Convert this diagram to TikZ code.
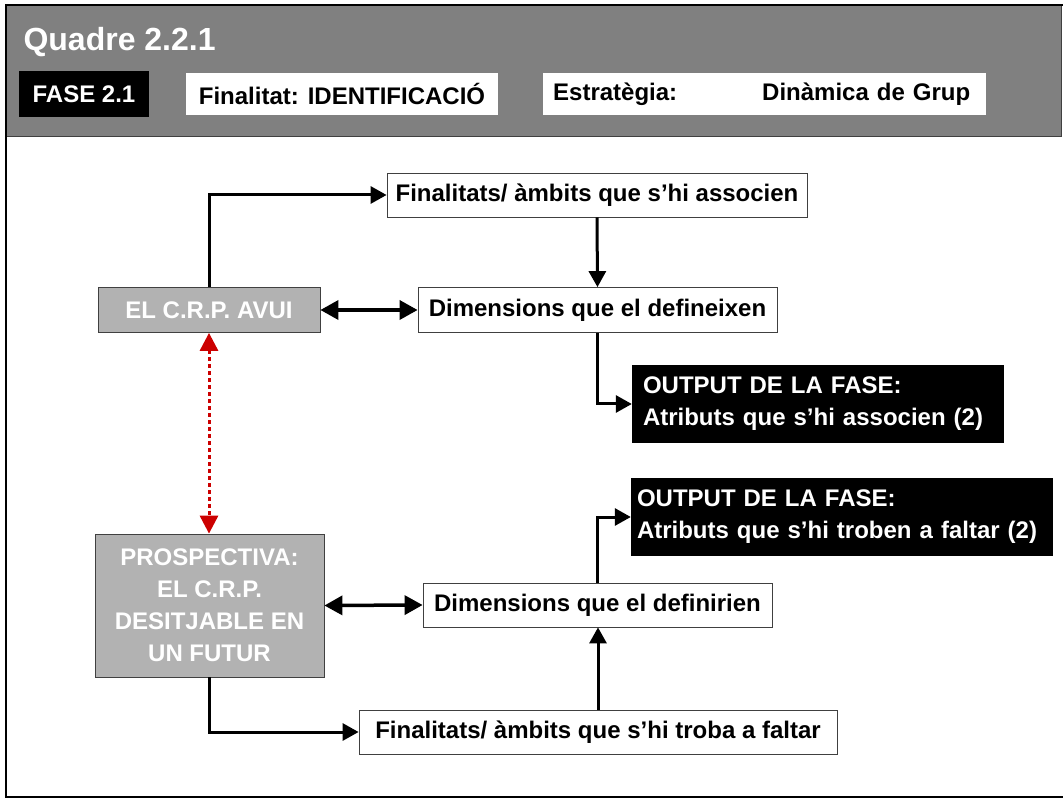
\documentclass[tikz,border=0pt]{standalone}
\usepackage{fontspec}
\setmainfont{Liberation Sans}
\usepackage{tikz}
\usetikzlibrary{arrows.meta}
\usetikzlibrary{calc}
\definecolor{headgray}{RGB}{128,128,128}
\definecolor{crpgray}{RGB}{178,178,178}
\definecolor{dotred}{RGB}{204,0,0}

\begin{document}
\begin{tikzpicture}[
  x=1pt, y=-1pt,
  > = {Triangle[length=16pt,width=17pt]},
  every node/.style = {font=\bfseries\fontsize{24}{32}\selectfont},
  box/.style = {draw=black!75, line width=0.8pt, fill=white, inner sep=0pt, minimum height=44pt},
  crpbox/.style = {box, fill=crpgray, text=white, align=center},
  outbox/.style = {fill=black, text=white, align=left, inner xsep=11pt, inner ysep=0pt, minimum height=77pt},
  link/.style = {line width=3pt, ->},
  dlink/.style = {line width=3.5pt, <->, >={Triangle[length=18pt,width=19pt]}},
  dotlink/.style = {dotred, line width=3pt, dash pattern=on 4pt off 3pt, <->, >={Triangle[length=18pt,width=18pt]}}
  ]
	\useasboundingbox (0,0) rectangle (1063,799);

	\coordinate (@1) at (597,195);
	\coordinate (@2) at (209,310);
	\coordinate (@3) at (597.5,310);
	\coordinate (@4) at (818,404);
	\coordinate (@5) at (209.5,605.5);
	\coordinate (@6) at (597.5,605);
	\coordinate (@7) at (598,732);
	\coordinate (@8) at (842,517);

	% capcalera
	\draw[fill=headgray, draw=black!75, line width=1pt] (6,5) rectangle (1061,137);
	\draw[line width=2.5pt] (1070,797) -- (6,797) -- (6,5) -- (1070,5);

	\node[anchor=base west, text=white, font=\bfseries\fontsize{32}{38}\selectfont] (title) at (20,51) {Quadre 2.2.1};
	\node[fill=black, text=white, minimum width=130pt, minimum height=46pt, inner sep=0pt] (fase) at (84,94) {FASE 2.1};
	\node[fill=white, minimum width=312pt, minimum height=42pt, inner sep=0pt] (final) at (342,94) {Finalitat: IDENTIFICACIÓ};
	\node[fill=white, anchor=west, text width=423pt, align=left, inner xsep=10pt, minimum height=42pt, inner ysep=0pt] (estr) at (543,94) {\makebox[209pt][l]{Estratègia:}Dinàmica de Grup};

	% avui
	\node[box, minimum width=420pt] (fin1) at (@1) {Finalitats/ àmbits que s'hi associen};
	\node[crpbox, minimum width=222pt, minimum height=45pt] (avui) at (@2) {EL C.R.P. AVUI};
	\node[box, minimum width=359pt, minimum height=45pt] (dim1) at (@3) {Dimensions que el defineixen};
	\node[outbox, text width=350pt] (out1) at (@4) {OUTPUT DE LA FASE:\\Atributs que s'hi associen (2)};

	% futur
	\node[crpbox, minimum width=229pt, minimum height=143pt] (prosp) at (@5) {PROSPECTIVA:\\EL C.R.P.\\DESITJABLE EN\\UN FUTUR};
	\node[box, minimum width=349pt] (dim2) at (@6) {Dimensions que el definirien};
	\node[box, minimum width=478pt] (fin2) at (@7) {Finalitats/ àmbits que s'hi troba a faltar};
	\node[outbox, text width=410pt, inner xsep=6pt, minimum height=78pt] (out2) at (@8) {OUTPUT DE LA FASE:\\Atributs que s'hi troben a faltar (2)};

	\draw[link] (avui.north) |- (fin1.west);
	\draw[link] (fin1.south) -- (dim1.north);
	\draw[dlink] (avui.east) -- (dim1.west);
	\draw[link] (dim1.south) |- (out1.west);

	\draw[dotlink] (avui.south) -- (avui.south |- prosp.north);

	\draw[dlink] (prosp.east) -- (dim2.west);
	\draw[link] (prosp.south) |- (fin2.west);
	\draw[link] (fin2.north) -- (fin2.north |- dim2.south);
	\draw[link] (dim2.north) |- (out2.west);

\end{tikzpicture}
\end{document}
